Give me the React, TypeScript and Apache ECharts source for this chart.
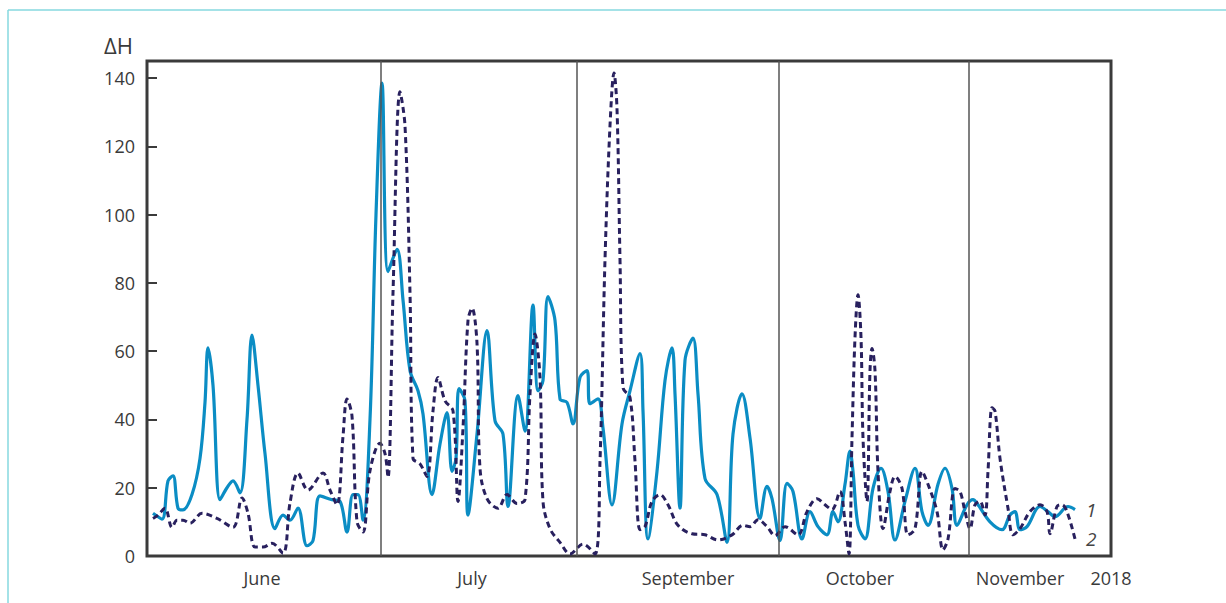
import React, { useEffect, useRef } from "react";
import * as echarts from "echarts";

// x positions are in abstract time units along the season (0 = start of plot, 964 = end)
const X_MAX = 964;

// series 1 (solid): [t, ΔH]
const series1: [number, number][] = [
  [6, 12.5], [15, 10.8], [21, 22], [26, 23.5], [31, 14], [36, 13.5], [45, 18], [53, 28.6],
  [58, 45], [61, 61], [66, 50], [73, 16.5], [80, 20], [86, 22], [93, 18.5], [100, 40],
  [105, 64.7], [111, 50], [118, 30], [128, 8], [136, 12], [143, 10.5], [151, 14], [160, 3],
  [166, 4.5], [173, 17.6], [185, 16.5], [193, 16], [200, 7], [206, 18], [211, 18], [216, 10.5],
  [223, 40], [229, 100], [235, 138.5], [241, 83.3], [250, 89.8], [256, 75], [263, 54.3],
  [271, 48.4], [276, 41.6], [285, 18], [293, 32.8], [300, 42], [305, 24.8], [309, 28.6],
  [312, 49], [318, 45.5], [321, 12], [330, 35.7], [340, 66], [348, 39.6], [356, 35.7],
  [361, 14.5], [371, 47], [378, 36.6], [386, 73.5], [391, 48.4], [396, 51.4], [401, 76],
  [408, 69], [413, 46], [420, 45], [426, 38.7], [433, 52.3], [440, 54.3], [443, 44.6],
  [451, 46], [456, 37.5], [465, 15], [475, 38.7], [483, 48.4], [493, 59.3], [496, 42.5],
  [501, 5], [510, 24.8], [518, 51.4], [525, 61], [528, 47.5], [533, 14], [538, 57.3],
  [546, 63.8], [551, 47.5], [558, 22.7], [570, 18], [580, 4], [586, 35.7], [595, 47.5],
  [603, 34.6], [613, 11], [620, 20.4], [625, 16.8], [633, 4.5], [640, 21.3], [646, 18.9],
  [655, 5], [663, 13], [671, 8.6], [680, 6.2], [686, 13], [691, 10], [698, 21], [703, 30.7],
  [706, 24.8], [711, 9], [718, 5], [726, 19.8], [734, 25.7], [741, 18.9], [748, 4.7],
  [758, 16], [768, 25.7], [775, 13], [781, 9], [791, 21], [798, 25.7], [805, 19.8], [810, 9],
  [820, 15], [826, 16.5], [831, 15], [843, 10], [855, 7.7], [863, 12], [868, 13], [873, 7.7],
  [880, 8.6], [893, 14.5], [901, 13], [908, 11.5], [921, 14.5], [928, 13.6],
];

// series 2 (dashed): [t, ΔH]
const series2: [number, number][] = [
  [6, 11], [11, 12], [18, 14], [25, 8.4], [30, 10.5], [36, 10.5], [43, 9.6], [55, 12.5],
  [70, 11], [86, 8.4], [95, 17], [101, 12.5], [108, 2.6], [116, 2.6], [125, 3.7], [136, 0.8],
  [143, 15.5], [151, 24.3], [161, 19.3], [176, 24.3], [183, 19.3], [190, 15], [196, 35],
  [200, 46], [205, 41], [210, 10], [216, 7], [223, 25], [233, 33], [238, 30], [241, 23],
  [246, 77], [253, 136], [258, 126], [263, 77], [266, 28.6], [273, 27], [280, 23.3],
  [286, 42.5], [291, 52.3], [298, 45.5], [306, 42.5], [311, 16], [316, 37.5], [321, 69],
  [325, 72.6], [330, 62.3], [333, 25.7], [340, 16.8], [351, 14], [360, 18], [370, 15.4],
  [378, 16.5], [383, 47.5], [388, 65], [393, 52.3], [396, 16], [403, 8], [413, 4],
  [423, 0.6], [436, 3.5], [448, 0.6], [453, 27.8], [458, 86.8], [463, 126], [467, 141.5],
  [470, 131], [473, 86.8], [476, 49.3], [483, 46.4], [488, 27.8], [493, 7.7], [498, 8.6],
  [505, 16], [513, 18], [521, 15], [531, 9], [545, 6.5], [558, 6.2], [571, 4.7], [585, 6.2],
  [596, 9], [603, 8.6], [611, 10.6], [620, 8.6], [628, 6], [638, 8.6], [651, 6.2], [660, 13],
  [670, 16.8], [678, 15], [685, 13.6], [693, 18.9], [698, 10], [702, 0.6], [705, 34.6],
  [708, 64], [711, 76.5], [714, 64], [716, 34.6], [720, 16], [723, 54.3], [725, 60.8],
  [728, 54.3], [731, 24.8], [736, 8], [743, 18.9], [748, 23.3], [755, 19.8], [761, 6.2],
  [768, 8], [775, 24.8], [781, 21], [790, 13], [796, 1.8], [801, 5], [808, 19.8], [813, 18.9],
  [818, 13], [823, 8], [828, 15], [833, 16], [838, 12], [841, 24.8], [845, 43.4], [848, 42.5],
  [853, 28.6], [861, 14], [866, 6.2], [873, 8], [883, 13], [893, 15], [900, 13], [903, 6.5],
  [910, 14.5], [915, 15], [920, 13], [928, 5],
];

const monthBoundaries = [234, 430, 632, 822];
const monthLabels = ["June", "July", "September", "October", "November", "2018"];
const monthLabelPositions = [115, 325, 541, 713, 873, 964];
const yTicks = [0, 20, 40, 60, 80, 100, 120, 140];
const seriesNames = ["1", "2"];

const TEXT = "#3a3a3a";
const FONT = "'Open Sans', 'Noto Sans', sans-serif";

export default function App() {
  const ref = useRef<HTMLDivElement>(null);

  useEffect(() => {
    if (!ref.current) return;
    const chart = echarts.init(ref.current, undefined, { renderer: "svg" });
    chart.setOption({
      animation: false,
      backgroundColor: "#ffffff",
      textStyle: { fontFamily: FONT },
      grid: {
        left: 147,
        right: 115,
        top: 61,
        bottom: 47,
        show: true,
        borderColor: "#3b3b3b",
        borderWidth: 3,
        backgroundColor: "transparent",
      },
      graphic: [
        {
          type: "line",
          shape: { x1: 8, y1: 10, x2: 1226, y2: 10 },
          style: { stroke: "#86d8df", lineWidth: 1.5 },
          silent: true,
        },
        {
          type: "line",
          shape: { x1: 8, y1: 10, x2: 8, y2: 603 },
          style: { stroke: "#86d8df", lineWidth: 1.5 },
          silent: true,
        },
      ],
      xAxis: {
        type: "value",
        min: 0,
        max: X_MAX,
        axisLine: { show: false },
        axisTick: { show: false },
        splitLine: { show: false },
        axisLabel: {
          customValues: monthLabelPositions,
          formatter: (v: number) => {
            const i = monthLabelPositions.indexOf(v);
            return i >= 0 ? monthLabels[i] : "";
          },
          color: TEXT,
          fontSize: 18,
          fontFamily: FONT,
          margin: 13,
          showMaxLabel: true,
          hideOverlap: false,
        },
      },
      yAxis: {
        type: "value",
        min: 0,
        max: 145,
        name: "ΔH",
        nameLocation: "end",
        nameGap: 5,
        nameTextStyle: {
          color: TEXT,
          fontSize: 22,
          fontFamily: FONT,
          align: "right",
          padding: [0, 14, 0, 0],
        },
        axisLine: { show: false },
        splitLine: { show: false },
        axisTick: {
          show: true,
          inside: true,
          length: 10,
          customValues: yTicks,
          lineStyle: { color: "#3b3b3b", width: 2 },
        },
        axisLabel: {
          customValues: yTicks,
          color: TEXT,
          fontSize: 18,
          fontFamily: FONT,
          margin: 12,
        },
      },
      series: [
        {
          name: seriesNames[0],
          type: "line",
          data: series1,
          smooth: 0.35,
          showSymbol: false,
          lineStyle: { color: "#0b8dc4", width: 3.2 },
          itemStyle: { color: "#0b8dc4" },
          clip: true,
          z: 3,
          endLabel: {
            show: true,
            formatter: seriesNames[0],
            distance: 11,
            color: "#444",
            fontSize: 19,
            fontStyle: "italic",
            fontFamily: FONT,
          },
          markLine: {
            silent: true,
            symbol: ["none", "none"],
            label: { show: false },
            lineStyle: { color: "#555", width: 1.5, type: "solid" },
            data: monthBoundaries.map((b) => ({ xAxis: b })),
          },
        },
        {
          name: seriesNames[1],
          type: "line",
          data: series2,
          smooth: 0.35,
          showSymbol: false,
          lineStyle: { color: "#28205e", width: 3, type: [6, 4] },
          itemStyle: { color: "#28205e" },
          clip: true,
          z: 4,
          endLabel: {
            show: true,
            formatter: seriesNames[1],
            distance: 11,
            color: "#444",
            fontSize: 19,
            fontStyle: "italic",
            fontFamily: FONT,
          },
        },
      ],
    });
    return () => chart.dispose();
  }, []);

  return (
    <div
      ref={ref}
      style={{ position: "fixed", left: 0, top: 0, width: 1226, height: 603, background: "#fff" }}
    />
  );
}
